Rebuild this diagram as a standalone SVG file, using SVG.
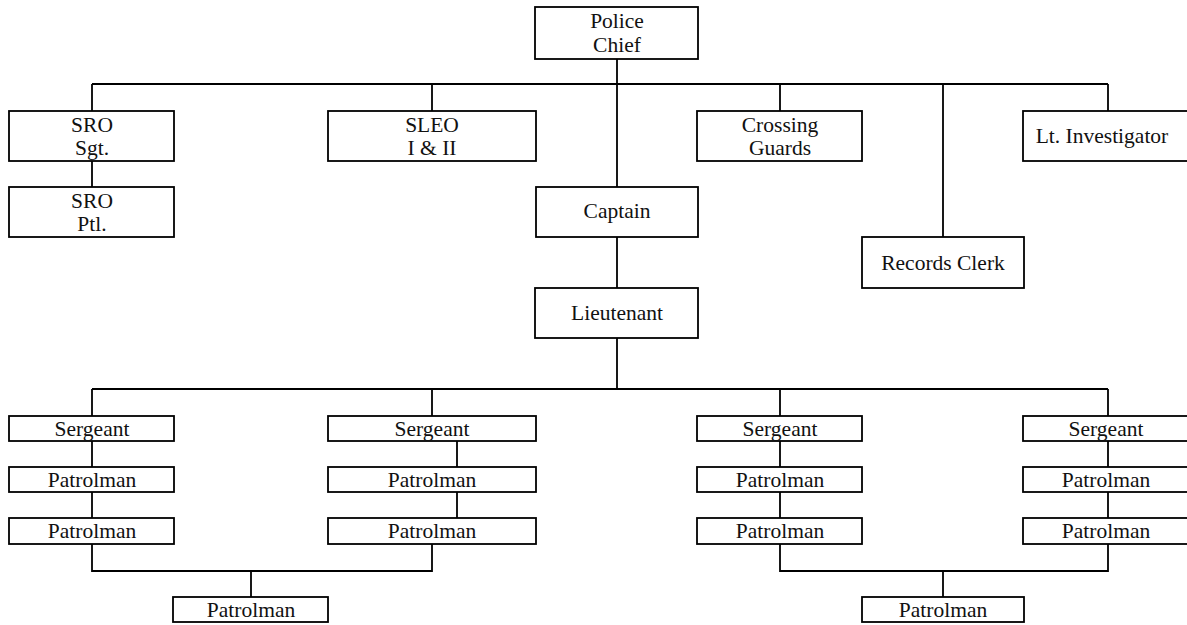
<svg xmlns="http://www.w3.org/2000/svg" width="1187" height="625" viewBox="0 0 1187 625">
<style>
.b{fill:#fff;stroke:#000;stroke-width:1.8}
.t{font-family:"Liberation Serif","Times New Roman",serif;font-size:21.5px;fill:#111;text-anchor:middle}
.c{fill:none;stroke:#000;stroke-width:1.8}
</style>
<rect width="1187" height="625" fill="#fff"/>
<g id="connectors" class="c">
<path d="M617 59V187M92 84H1108M92 84V111M432 84V111M780 84V111M943 84V237M1108 84V111M92 161V187"/>
<path d="M617 237V288M617 338V389M92 389H1108M92 389V416M432 389V416M780 389V416M1108 389V416"/>
<path d="M92 441V467M92 492V518M92 544V571H432V544M251 571V597"/>
<path d="M457 441V467M457 492V518"/>
<path d="M780 441V467M780 492V518M780 544V571H1108V544M943 571V597"/>
<path d="M1108 441V467M1108 492V518"/>
</g>
<g id="chief"><rect class="b" x="535" y="7" width="163" height="52"/><text class="t" x="617" y="28">Police</text><text class="t" x="617" y="52">Chief</text></g>
<g id="sro-sgt"><rect class="b" x="9" y="111" width="165" height="50"/><text class="t" x="92" y="132">SRO</text><text class="t" x="92" y="155">Sgt.</text></g>
<g id="sro-ptl"><rect class="b" x="9" y="187" width="165" height="50"/><text class="t" x="92" y="208">SRO</text><text class="t" x="92" y="231">Ptl.</text></g>
<g id="sleo"><rect class="b" x="328" y="111" width="208" height="50"/><text class="t" x="432" y="132">SLEO</text><text class="t" x="432" y="155">I &amp; II</text></g>
<g id="crossing"><rect class="b" x="697" y="111" width="165" height="50"/><text class="t" x="780" y="132">Crossing</text><text class="t" x="780" y="155">Guards</text></g>
<g id="lt-inv"><rect class="b" x="1023" y="111" width="166" height="50"/><text class="t" x="1102" y="143">Lt. Investigator</text></g>
<g id="captain"><rect class="b" x="536" y="187" width="162" height="50"/><text class="t" x="617" y="218">Captain</text></g>
<g id="records"><rect class="b" x="862" y="237" width="162" height="51"/><text class="t" x="943" y="270">Records Clerk</text></g>
<g id="lieutenant"><rect class="b" x="535" y="288" width="163" height="50"/><text class="t" x="617" y="320">Lieutenant</text></g>
<g id="sgt1"><rect class="b" x="9" y="416" width="165" height="25"/><text class="t" x="92" y="436">Sergeant</text></g>
<g id="p1a"><rect class="b" x="9" y="467" width="165" height="25"/><text class="t" x="92" y="487">Patrolman</text></g>
<g id="p1b"><rect class="b" x="9" y="518" width="165" height="26"/><text class="t" x="92" y="538">Patrolman</text></g>
<g id="sgt2"><rect class="b" x="328" y="416" width="208" height="25"/><text class="t" x="432" y="436">Sergeant</text></g>
<g id="p2a"><rect class="b" x="328" y="467" width="208" height="25"/><text class="t" x="432" y="487">Patrolman</text></g>
<g id="p2b"><rect class="b" x="328" y="518" width="208" height="26"/><text class="t" x="432" y="538">Patrolman</text></g>
<g id="sgt3"><rect class="b" x="697" y="416" width="165" height="25"/><text class="t" x="780" y="436">Sergeant</text></g>
<g id="p3a"><rect class="b" x="697" y="467" width="165" height="25"/><text class="t" x="780" y="487">Patrolman</text></g>
<g id="p3b"><rect class="b" x="697" y="518" width="165" height="26"/><text class="t" x="780" y="538">Patrolman</text></g>
<g id="sgt4"><rect class="b" x="1023" y="416" width="166" height="25"/><text class="t" x="1106" y="436">Sergeant</text></g>
<g id="p4a"><rect class="b" x="1023" y="467" width="166" height="25"/><text class="t" x="1106" y="487">Patrolman</text></g>
<g id="p4b"><rect class="b" x="1023" y="518" width="166" height="26"/><text class="t" x="1106" y="538">Patrolman</text></g>
<g id="p-left"><rect class="b" x="173" y="597" width="155" height="25"/><text class="t" x="251" y="617">Patrolman</text></g>
<g id="p-right"><rect class="b" x="862" y="597" width="162" height="25"/><text class="t" x="943" y="617">Patrolman</text></g>
</svg>
